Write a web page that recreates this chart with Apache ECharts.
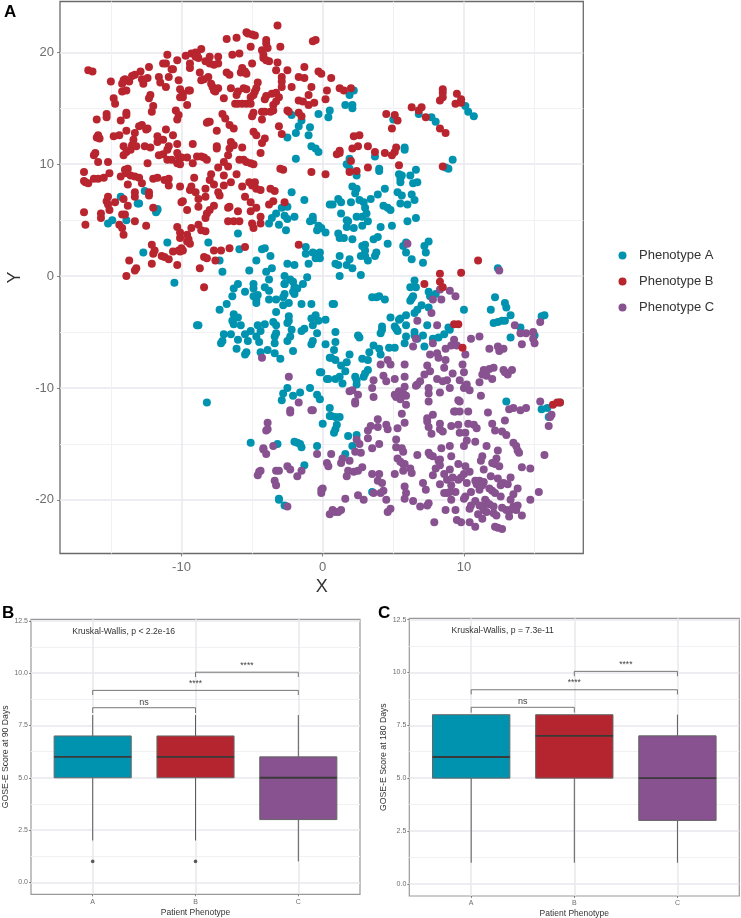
<!DOCTYPE html>
<html><head><meta charset="utf-8">
<style>html,body{margin:0;padding:0;background:#fff}#c{width:741px;height:918px}</style>
<script src="https://cdn.jsdelivr.net/npm/echarts@6/dist/echarts.min.js"></script>
</head><body><div id="c"></div>
<script>
const phenotypeA = [[-14.3,7.1],[-12.6,7.6],[-13.1,6.5],[-13,6.5],[-11.7,5.9],[-11.8,5.7],[-11.7,6],[-15.2,4.7],[-14.9,5],[-13.9,5],[-11,3],[-12.7,2.1],[-8.1,3],[-6,3.8],[-5.9,2.4],[-7.3,1.4],[-7.1,0.4],[-10.5,-0.6],[-5.2,0.5],[-4.7,1.4],[-4.3,2.4],[-4.1,2.5],[-3.7,1.8],[-4,0.4],[-3.6,0.7],[-3.8,-0.3],[-2.5,1.1],[-2,1],[-1,1.1],[-2.7,0],[-2.3,-0.3],[-2.1,-0.5],[-2.7,-0.7],[-2,-1],[-1.4,-0.7],[-1.1,-0.1],[-1.2,2.6],[-1.2,2],[-0.7,2.1],[-0.4,1.7],[-0.2,2.1],[-0.5,2],[-0.3,1.9],[-0.2,1.6],[-0.5,1.6],[-3.8,4.7],[-3.6,5.2],[-3.3,5.6],[-2.9,6.1],[-2.5,6.2],[-2.7,5.4],[-2.5,5.1],[-2,5.3],[-3.1,4.6],[-2.6,4.1],[-2.2,7.5],[-1.3,6.8],[0.5,6.4],[-0.9,4.9],[-0.7,5.3],[-0.7,5],[-0.4,4.1],[-0.3,4.5],[-0.1,4.3],[0.2,3.9],[-2.2,14.4],[-1.5,13.9],[-1.7,13.4],[-1.9,12.8],[-0.9,13.3],[-1,12.6],[-0.8,11.6],[-0.5,11.4],[-0.3,11.1],[-2.5,12.4],[-1.9,10.5],[-0.3,14.5],[0.4,14.2],[0.5,14.8],
[2.2,16.6],[1.9,16.2],[1.6,15.3],[2.1,15.3],[2.1,15],[6.8,14.5],[5,14],[7.7,14.2],[8,13.8],[10.1,15.2],[10.3,14.7],[10.7,14.3],[9.2,10.4],[8.7,9.7],[8.9,9.6],[5.8,11.5],[5.8,11.3],[3.7,10.7],[1.9,10.5],[1.7,10],[1.9,9.6],[2.4,9],[4,9.6],[4,9.4],[5.4,9.1],[5.6,9],[5.5,8.7],[5.5,8.4],[6.2,9],[6.6,9.5],[6.4,8.3],[6.7,8.4],[2.1,8],[2.4,7.8],[2.3,7.4],[1.1,6.9],[1.3,6.6],[0.7,6.4],[2,6.6],[2.6,6.8],[2.9,6.6],[3,6.1],[3.1,5.6],[3.4,6.9],[3.9,7.3],[4.4,7.8],[5.3,7.5],[5.6,7.2],[6.3,7.3],[5.5,6.5],[6,6.4],[6.5,6.8],[4.3,6.3],[4.6,6.1],[4.8,5.9],[1.3,5.6],[1.7,5],[1.8,4.9],[1.7,4.4],[2.4,5.3],[2.8,5.3],[3.2,4.9],[2.8,4.5],[2.2,4.3],[4.1,4.4],[4.9,4.5],[6,4.9],[6.6,5.2],[1.1,3.8],[1.2,3.4],[1.5,3.4],[2.1,3.3],[3.6,3.3],[3.9,3.5],[2.8,2.7],[3,2.8],[4.6,2.9],[3,2.3],[2.7,1.8],[3,1.8],[3.2,1.4],[3.8,2.1],[3.7,1.8],[1.2,1.8],[0.9,1.1],[1.1,1],[1.9,1.5],[1.7,1],[2.1,0.7],[1.2,0],[2.7,0.1],[5.9,3],[5.7,2.7],[5.9,2.1],[6.3,1.5],[7.5,3.1],[7.2,2.7],[7.3,2.1],[7.1,1.2],[12.4,0.7],[6.5,-0.4],[6.2,-1],
[-6,-0.7],[-6.3,-1.1],[-6.4,-1.8],[-6.8,-2.5],[-7.3,-3],[-5.5,-1.4],[-4.9,-0.7],[-4.9,-1.1],[-4.9,-1.8],[-4.6,-1.7],[-4.7,-2.1],[-4.7,-2.4],[-4.1,-1],[-3.8,-1.3],[-3.8,-2.1],[-3.3,-2.1],[-2.7,-0.7],[-2.7,-1.6],[-2.8,-1.9],[-2.4,-2.4],[-2.8,-2.6],[-2.1,-1.4],[-1.8,-1.1],[-2,-1.6],[-1.5,-2.5],[-0.8,-2.5],[-3.3,-3.2],[-6.3,-3.4],[-6,-3.7],[-6.4,-4],[-6.3,-4.3],[-5.8,-4.4],[-8.9,-4.4],[-8.8,-4.4],[-4.6,-4.4],[-4.1,-4.3],[-3.5,-4.1],[-3.3,-4.4],[-2.4,-3.6],[-2.4,-4],[-2.5,-4.2],[-0.8,-3.8],[-0.5,-3.5],[-0.3,-4],[0.2,-3.9],[-0.7,-4.4],[-5.1,-4.9],[-5.5,-5.2],[-4.4,-4.9],[-4.7,-5.4],[-4.5,-5.9],[-5.3,-5.8],[-6,-5.7],[-7,-5.2],[-6.5,-5.2],[-7.1,-5.8],[-7.2,-6],[-3.3,-5.1],[-3.4,-5.4],[-3.4,-6],[-2.2,-4.8],[-2.3,-5.4],[-2.5,-5.8],[-1.5,-4.9],[-1.3,-4.7],[-0.4,-5.1],[-0.7,-5.8],[-0.8,-6.1],[0.2,-6.1],[-6.1,-6.5],[-5.4,-6.8],[-5.5,-7],[-4.4,-6.8],[-3.9,-6.6],[-3.4,-6.9],[-3,-7.4],[-2.1,-6.7],[0.5,-7.3],[-0.2,-8.6],[0.3,-9.2],[-2.5,-10],[-2.8,-10.5],[-2.1,-10.7],[-1.6,-10.4],[-2.9,-11.1],[-0.9,-10],[-0.4,-10.6],[-0.2,-11],[-8.2,-11.3],[0.5,-11.8],[0.5,-12.5],[0,-13.2],[-5.1,-14.9],[-3.2,-15],[-2,-14.8],[-1.8,-14.9],[-1.6,-15],[-1.5,-15.3],[-0.4,-15.2],[-1.3,-16.9],[-3.1,-19.9],[-3.1,-20],[-2.7,-20.5],
[6.6,-1],[6.4,-1.8],[6.3,-2],[6.2,-2.2],[7.5,-1.4],[7.6,-1.8],[8,-1.6],[3.5,-1.9],[4,-1.8],[4.4,-2.1],[3.8,-1.9],[0.7,-2.5],[0.8,-2.5],[12.2,-1.9],[12.9,-2.4],[13,-2.8],[13.3,-3.5],[11.9,-3],[10,-3],[15.7,-3.5],[15.5,-3.6],[12.1,-4.2],[12.4,-4.1],[12.7,-4],[12.9,-4],[14,-4.6],[13.3,-5.5],[15,-5.3],[6.5,-3.3],[6.7,-3],[7,-2.6],[7.5,-2.8],[5.9,-3.5],[4.8,-3.7],[5.4,-3.9],[5.5,-3.8],[5.9,-4.4],[5.1,-4.5],[5.2,-4.7],[5.3,-4.9],[7.4,-4.4],[4.2,-4.5],[4.2,-4.8],[4.1,-5.1],[8.9,-4.6],[9,-4.8],[8.6,-5.2],[8.2,-5.5],[7.8,-5.6],[6.5,-5],[5.9,-5.4],[5.8,-6],[6.5,-5.3],[6.7,-5.6],[7.1,-5.3],[7.2,-6.3],[2.5,-5.3],[2.6,-5.5],[0.9,-5],[0.9,-5.9],[0.8,-6.6],[3.6,-6.2],[3.3,-6.8],[4,-6.5],[4.1,-7],[4.7,-6.4],[5.1,-6.4],[1.9,-7],[0.6,-7.3],[0.9,-7.5],[1.3,-8],[1.7,-7.7],[1.6,-8.5],[-0.1,-8.6],[2.8,-7.4],[3.2,-7.5],[3.2,-8.4],[3,-8.7],[2.9,-9],[0.4,-9.2],[0.9,-9.2],[1.2,-9],[1.4,-9.6],[2.3,-9],[2.4,-9.3],[2.4,-9.7],[0.6,-12.5],[0.9,-12.6],[1.2,-12.6],[1,-13.3],[0.9,-13.7],[0.8,-14],[1.8,-14.3],[2.4,-14.2],[2.1,-15.2],[1.6,-15.9],[13,-11.2],[15.5,-11.9],[15.9,-11.8],[16,-12.6],[16.8,-11.3],[3.5,-19.3]];

const phenotypeB = [[-16.6,18.4],[-16.3,18.3],[-15,17.4],[-14.8,15.9],[-14.7,15.4],[-14.1,17.5],[-14,17.6],[-14.2,17.2],[-13.7,17.4],[-13.5,17.9],[-13.3,18],[-12.9,18.3],[-12.3,18.7],[-12.8,17.6],[-12.4,17.7],[-12.7,17.2],[-14.2,16.5],[-13.9,16.6],[-12.2,16.2],[-12.3,15.9],[-12,15.2],[-12.1,14.7],[-15.3,14.5],[-15.3,14.2],[-13.9,14.6],[-13.9,14.4],[-16,14],[-14.3,13.9],[-11.6,17.8],[-11.5,17.3],[-10.9,17.8],[-11.1,16.9],[-11.3,19],[-11.1,19],[-11,19.8],[-10.7,18.5],[-10.6,18.5],[-10.3,19.3],[-9.7,19.7],[-10.2,17.5],[-10.1,16.7],[-9.5,16.6],[-9.4,16.6],[-9.9,16.3],[-10.1,16],[-9.9,16],[-9.6,15.3],[-10.4,14.8],[-10.2,14.4],[-10.3,14],[-9.3,19.9],[-9,20],[-8.9,19.8],[-8.8,19.5],[-8.6,20.3],[-9,19.6],[-9.4,19],[-9.4,18.6],[-8.7,18.2],[-8.6,17.5],[-8.1,17.8],[-8.4,17.6],[-8,19.6],[-8.3,19.2],[-8,19],[-7.4,19.6],[-7.4,19],[-7.7,18.9],[-7.9,17.2],[-7.8,16.9],[-7.6,16.5],[-7.4,16.8],[-7.7,16.6],[-7,15.9],[-6.8,18.2],[-6.6,18],[-6.4,19.8],[-5.9,19.9],[-6.8,21.2],[-6.1,21.3],[-5.4,21.8],[-5.3,21.7],[-5,21.6],[-4.8,21.5],[-5.1,20.5],[-5,19],[-4,21.1],[-4,20.8],[-4.3,20.2],[-3.9,20.4],[-4.2,19.8],[-4.2,19.5],[-4,19.3],[-3.8,19.2],[-3.2,22.4],[-3,20.5],[-3.2,19.1],[-3.3,18.4],[-2.5,18.4],[-0.7,21],[-0.5,21.1],[-1.3,18.7],[-0.3,18.3],[-0.1,18.1],[-1.7,17.8],[-1.3,17.7],[-2.9,17.8],[-2.9,17.4],[-2.9,16.9],[-2.2,16.9],[-0.8,16.9],[0.6,17.7],[0.3,16.6],[-4.6,17.3],[-4.7,16.8],[-4.8,16.5],[-4.9,16.2],[-5.1,16],[-5.4,16.7],[-5.6,16.8],[-6,16.5],[-6.1,16.2],[-6.5,16.8],[-5.7,18.6],[-5.5,18.3],[-5.8,18.2],[-5.4,18.1],[-6.2,15.4],[-6,15.4],[-5.7,15.4],[-5.4,15.4],[-5.1,15.4],[-4.1,15.8],[-4,16.1],[-3.6,16.3],[-3.3,16.4],[-3.1,16],[-3.3,15.6],[-3.5,15.3],[-4.3,14.7],[-4.1,14.7],[-3.7,14.7],[-3.5,14.8],[-4.9,14.6],[-5,14.3],[-4.3,14],[-2.5,14.8],[-2.4,14.7],[-1.7,15.7],[-1.4,15.6],[-1,16.2],[-1,15.3],[-0.6,15.5],[0.2,15.8],[-1.7,14.6],[-1.5,14.3],[-7.1,14.5],[-6.9,14.1],[-6.6,13.5],[-6.3,13.2],[-8.1,13.8],[-8,13.8],[-8.2,13.7],[-7.5,13],[-13,13.4],[-12.8,13.5],[-13.3,12.8],[-13.4,12.2],[-13.5,11.7],[-12.5,13.1],[-12.4,13.2],[-13.9,13],[-14.4,12.6],[-14.8,12.5],[-15.9,12.6],[-16,12.4],[-15.8,12.3],[-14.1,11.6],[-13.9,11.1],[-14.1,10.8],[-13.6,11.3],[-13.2,11.6],[-12.6,11.6],[-12.2,11.5],[-11.7,12.5],[-11.7,12],[-11.3,12.2],[-11.1,13.1],[-10.6,12.6],[-11.6,10.8],[-11.3,10.9],[-11,11.3],[-10.9,11.6],[-11,10.4],[-10.7,10.4],[-10.3,11.8],[-10.3,11],[-10.2,10.7],[-10,10.6],[-9.6,10.6],[-10.3,10.1],[-10.1,10],[-9.2,11.8],[-9.2,10.1],[-8.9,10.7],[-8.6,10.7],[-8.4,10.6],[-8.2,10.4],[-7.5,11.6],[-7.5,11.4],[-6.7,10.8],[-6.5,12],[-6.6,11.4],[-6.3,11.7],[-5.7,11.5],[-5.9,10.4],[-5.6,10.4],[-5.4,10.2],[-5.1,10.1],[-4.9,10],[-4.9,12.9],[-4.7,12.6],[-4.1,12.3],[-4.3,11.9],[-4.4,11],[-3.1,13.4],[-2.9,12.7],[-16.2,10.8],[-16.1,11],[-15.9,10.2],[-15.2,10.2],[-12.4,10.1],[-7,10.2],[-7.4,9.7],[-6.7,9.8],[-7,9],[-6.1,9.1],[-3,9.6],[-2.8,9.5],[-0.8,9.3],[0.2,9.1],[-16.9,9.3],[-16.9,8.5],[-16.8,8.4],[-16.6,8.3],[-16.2,8.7],[-15.9,8.7],[-15.5,8.8],[-15.1,9.2],[-14.3,8.9],[-14,9.5],[-13.8,9.6],[-13.9,9.2],[-13.6,9],[-13.3,8.9],[-13,8.8],[-12.8,8.3],[-13.8,8.2],[-12,8.7],[-11.7,8.8],[-11.2,8.6],[-10.9,8.7],[-10.9,8.1],[-10.1,8],[-9.1,8.8],[-9.4,7.7],[-9.3,8],[-9,7.5],[-8.8,6.9],[-8.3,7.8],[-8.3,7.1],[-7.9,9.1],[-8,8.6],[-7.7,8.2],[-7.4,7.5],[-7.3,7.2],[-7,8.1],[-6.5,8.4],[-5.7,8],[-5.2,8.4],[-4.8,8.4],[-5,8.1],[-4.7,7.8],[-4.4,7.7],[-5.5,7.1],[-5.1,6.6],[-3.7,7.8],[-3.4,7.6],[-2.7,6.6],[-3.5,6.7],[-3.8,6.4],[-4.7,6.1],[-5.1,5.8],[-6,5.8],[-6.7,6.1],[-6.6,6.2],[-7.7,6.3],[-8,5.9],[-8.2,5.6],[-8.3,5.2],[-8.8,6.2],[-10,6.6],[-9.9,6.7],[-9.6,5.9],[-15.2,7.1],[-15.3,6.7],[-15.2,6.4],[-15.1,5.9],[-14.7,6.6],[-14.1,6.9],[-13.8,6.3],[-14,5.5],[-14.2,5.5],[-15.7,5.6],[-15.7,5.2],[-16.9,5.7],[-16.8,4.6],[-13.3,7.5],[-13.3,7.1],[-12.3,7.5],[-12.3,7.2],[-12,6.1],[-13.3,4.9],[-12.5,4.5],[-14.4,4.6],[-14.2,4.3],[-14.1,3.7],[-4.4,5.3],[-5,4.7],[-4.9,4.3],[-4.4,4.7],[-6.7,4.9],[-6.3,4.9],[-5.9,4.9],[-10.3,4.4],[-10.1,3.9],[-10.1,3.4],[-9.6,3.7],[-9.5,3.3],[-9.6,3.1],[-9.4,2.9],[-9.3,4.3],[-8.8,4.6],[-8.6,4.1],[-8.3,4],[-12.1,2.8],[-11.9,2.3],[-12,2],[-12.1,1.1],[-11.4,1.8],[-11.2,1.7],[-10.9,1.5],[-10.3,1],[-10.6,2.2],[-10.2,2.3],[-10,2.5],[-9.9,2.3],[-10.1,2.2],[-7.7,2.3],[-7.2,2.3],[-6.6,2.5],[-5.5,2.6],[-1.7,2.8],[-8.4,1.7],[-8.2,1.6],[-7.6,1.4],[-8.7,0.7],[-13.7,1.4],[-13.2,0.7],[-13.3,0.5],[-13.9,0],[-8.4,-1],
[1.2,16.8],[1.5,16.6],[2,16.8],[4.5,14.5],[5.1,14.4],[5.3,13.9],[4.9,13.2],[6.3,15.1],[6.8,14.8],[7,15.1],[7.3,14.2],[8.3,13.2],[8.7,12.8],[8.5,16.7],[8.5,16.4],[8.5,16],[8.3,15.7],[9.5,16.3],[9.8,15.8],[9.8,15.5],[9.4,15.4],[2.2,12.5],[2.6,12.6],[2.5,11.6],[2.1,11.4],[1.2,11.2],[1,10.9],[1.2,11],[3.2,11.6],[3.7,11.1],[4.4,11],[4.9,10.8],[5.1,11.1],[5.2,11.5],[5.4,9.9],[3.2,9.7],[2,10.3],[2.4,9.4],[1.9,9.3],[8.5,9.8],[11,1.4],[9.8,0.3],[8.3,0.2],[8.3,-0.5],[8.5,-1],[7.2,-0.7],[9.3,-4.3],[9.6,-4.3],[9.9,-6.4],[16.3,-11.5],[16.6,-11.3],[16.8,-11.3]];

const phenotypeC = [[6,2.9],[12.5,0.5],[9,-1.3],[8.3,-1.2],[9.4,-1.8],[7.8,-2.1],[8.4,-2.1],[7.7,-3.3],[6.7,-4],[8.1,-4.4],[13.6,-4.4],[14,-5.1],[14.4,-5.1],[14.9,-5],[14.9,-5.6],[15,-6],[14.1,-6.1],[15.4,-4.1],[6.6,-5.6],[6.4,-6.3],[7.8,-6],[9.3,-5.7],[9.1,-6.2],[8.7,-6.5],[9.5,-6.2],[10.5,-5.6],[11.1,-5.4],[11.8,-6.5],[12.4,-6.3],[12.5,-6.7],[12.8,-6.5],[7.6,-7],[8.1,-6.9],[8.2,-7.3],[8.7,-7.5],[10.1,-7],[9.9,-7.9],[4.6,-7.5],[4.8,-7.9],[4.1,-7.9],[5.8,-7.9],[7.4,-8],[7.6,-8.5],[7.2,-8.8],[8.6,-8.2],[9.2,-8.7],[10,-8.6],[12.1,-8.2],[11.8,-8.3],[11.4,-8.4],[11.3,-8.8],[11.6,-8.9],[12,-9.2],[11.1,-9.5],[12.8,-8.4],[13.1,-8.8],[13.4,-8.4],[12.9,-8.6],[4.3,-8.9],[4.5,-9.4],[3.6,-9.3],[5.1,-9.2],[5.8,-9],[8.1,-9.2],[8.8,-9.3],[8.5,-9.4],[9.7,-9.3],[9,-10],[8.3,-10.4],[6.9,-9.4],[6.7,-9.7],[6.6,-9.8],[7.5,-10],[7.5,-10.5],[7.5,-11.2],[10.1,-9.8],[10,-10],[10.4,-10.2],[10.2,-9.7],[11.2,-10.7],[9.6,-11.1],[9.7,-11.2],[3.5,-10],[3.6,-10.8],[1.9,-10.3],[2.1,-10.2],[2.5,-10.6],[2.3,-11.2],[2.3,-11.4],[5.1,-10.6],[5.4,-10.3],[5.6,-10.7],[5.9,-10.7],[5.8,-9.9],[5.2,-10.8],[5.5,-11],[5.7,-10.5],[5.9,-11.5],[5.6,-12.3],[5.8,-13.1],[-0.7,-12],[9.3,-12.1],[9.4,-12.1],[9.7,-12.1],[10.3,-12.1],[7.8,-12.4],[7.4,-12.7],[7.4,-13],[7.5,-13.5],[7.7,-14.1],[8.3,-13.2],[8.3,-13.7],[8.5,-13.9],[9.1,-13.4],[9.6,-13.3],[10.3,-13.2],[10.7,-13.3],[10.9,-13.6],[9.7,-14],[10.1,-14],[11.7,-12.2],[12.9,-12.9],[12,-13.2],[12.2,-13.8],[12.7,-13.9],[13,-14.2],[13.2,-11.9],[13.5,-11.8],[14,-12],[14.4,-11.8],[15.4,-11.2],[16.2,-12.4],[16.1,-12.6],[16,-13.4],[3.9,-12.8],[3.4,-13.4],[3.2,-13.8],[3.9,-13.5],[4.5,-13.3],[4.6,-13.7],[5.3,-13.6],[3.2,-14.5],[2.4,-14.6],[2.6,-15],[4,-15],[3.5,-15.4],[5.2,-14.6],[5.2,-15.3],[5.6,-15.4],[5.7,-15.7],[2.3,-15.7],[2.7,-15.8],[-0.4,-15.9],[0.6,-15.9],[10.2,-14.7],[10.8,-14.8],[10,-15.2],[9,-15.2],[8.4,-15.4],[9.1,-16.1],[6.7,-16],[7.5,-15.8],[7.6,-16],[7.8,-16.1],[8.3,-16.4],[11.6,-15.2],[12.4,-15.6],[12.3,-16.3],[11.3,-16.1],[11.2,-16.5],[12,-16.7],[12.2,-16.8],[12.5,-17],[13.5,-14.9],[13.7,-15.2],[13.8,-15.6],[13.9,-15.8],[15.7,-16],[14.1,-17.1],[14.7,-17.2],[5.3,-16.3],[5.5,-16.6],[5.7,-16.8],[5.8,-16.8],[5.7,-17.4],[6.2,-17.2],[6.3,-17.6],[5.1,-17.7],[3.5,-17.7],[4,-17.7],[1.4,-16.3],[1.3,-16.7],[1.9,-16.5],[2.8,-17.1],[2.5,-17.4],[2.2,-17.5],[1.8,-17.4],[1.7,-17.9],[0.3,-16.7],[0.4,-17],[8.2,-16.5],[8,-17.2],[7.8,-17.8],[8.3,-16.9],[9.6,-16.8],[9,-17.3],[8.6,-17.7],[8.8,-18.2],[9.2,-18],[9.1,-18.7],[8.3,-18.6],[10,-17.7],[9.8,-18],[9.6,-18.2],[10.2,-18.5],[10.1,-17],[10.4,-17.5],[11.4,-17.3],[11.9,-17.9],[12.4,-18.1],[10.8,-18.3],[11.1,-18.3],[11.4,-18.4],[11.3,-18.7],[10.9,-18.6],[13.3,-18],[12.8,-18.5],[13.1,-18.6],[12.6,-18.7],[13.8,-19],[15.3,-19.3],[14.7,-20],[13.5,-19.5],[10.5,-19.3],[10.1,-19.7],[10,-19.9],[11.1,-19.1],[11.8,-19],[12,-19.2],[12.2,-19.4],[12.6,-19.7],[3.9,-18.3],[4.2,-18.5],[4.1,-19.4],[4.3,-19.2],[3.6,-19.4],[4.5,-20],[5.8,-18.8],[7.3,-19.1],[7.1,-18.5],[5.9,-19.4],[5.8,-19.9],[6.4,-20.1],[8.8,-19.4],[8.6,-19.4],[9,-19.3],[9.4,-19.3],[9.1,-20],[10.8,-20.1],[11.5,-20],[11.6,-20.2],[11.8,-20.4],[13.3,-20],[13.8,-20.5],[13.5,-20.6],[13.7,-20.9],[10.5,-20.5],[10.4,-20.8],[11.1,-20.5],[11.3,-20.6],[12.1,-20.6],[12.7,-20.7],[13,-20.9],[13.3,-20.9],[11.4,-20.9],[11.6,-21.1],[12.1,-21.2],[12.3,-21.4],[11,-21.3],[11.3,-21.7],[13.2,-21.5],[14.1,-21.4],[2.5,-19.6],[1.6,-19.9],[2.9,-20],[0,-19],[-0.1,-19.4],[-0.1,-19.1],[6.9,-20.6],[7.4,-20.5],[7.5,-20.3],[8.7,-20.9],[9.4,-20.9],[4.8,-20.8],[4.6,-21.1],[0.7,-20.9],[0.5,-21.3],[0.9,-21.1],[1.1,-21.1],[1.3,-20.9],[7.9,-22],[9.5,-21.8],[9.8,-22],[10.4,-22],[10.8,-22.4],[12.2,-22.4],[12.4,-22.5],[12.7,-22.6],
[-4.3,-7.3],[-2.4,-9],[-1.7,-11.3],[-2.3,-12],[-2.3,-12.2],[-0.8,-12],[-3.9,-13.1],[-3.9,-13.7],[-4,-13.8],[-4.2,-15.4],[-4.2,-15.5],[-4,-15.9],[-3.5,-15.2],[-2.5,-17],[-2.3,-17.3],[-1.5,-17.4],[-1.8,-17.9],[-3.3,-17.4],[-3.1,-17.4],[-4.5,-17.5],[-4.6,-17.8],[-4.4,-17.4],[-3.4,-18.3],[-3.3,-18.7],[-2.5,-20.6]];

const boxCategories = ['A','B','C'];
// [min, q1, median, q3, max] per phenotype
const score90 = [[2,5,6,7,8],[2,5,6,7,8],[1,3,5,6,8]];
const score180 = [[1,5,6,8,8],[1,5,7,8,8],[1,3,5,7,8]];
const outliers90 = [[1,1],[2,1]];
// [from category, to category, top value, tip value, label, label value]
const brackets = [[1,2,8.35,8.1,'ns',8.62],[1,3,9.18,8.96,'****',9.5],[2,3,10.05,9.82,'****',10.36]];
const scoreTicks = [0,2.5,5,7.5,10,12.5];
const scoreMinor = [1.25,3.75,6.25,8.75,11.25];
const tsneMajorX = [-10,0,10], tsneMinorX = [-15,-5,5,15];
const tsneMajorY = [-20,-10,0,10,20], tsneMinorY = [-15,-5,5,15];
const boxColors = ['#0093AF','#B5252F','#87528F'];

const FONT = '"Liberation Sans", Arial, sans-serif';
const majorLine = {show:true,lineStyle:{color:'#e8e8ee',width:1.5}};
const minorLine = {show:true,lineStyle:{color:'#f1f1f4',width:1}};

function hiddenAxis(gridIndex, min, max, values){
  return {type:'value',gridIndex,min,max,axisLine:{show:false,onZero:false},axisLabel:{show:false},
    axisTick:{show:false,customValues:values},splitLine:minorLine,silent:true,z:0};
}
const grids = [
  {left:60,top:1.5,width:523.3,height:552,show:true,borderColor:'#6a6a6a',borderWidth:1.3,backgroundColor:'#fff',outerBoundsMode:'none'},
  {left:31,top:619.3,width:329,height:275,show:true,borderColor:'#999',borderWidth:1.2,backgroundColor:'#fff',outerBoundsMode:'none'},
  {left:409.3,top:618.3,width:330,height:277.7,show:true,borderColor:'#999',borderWidth:1.2,backgroundColor:'#fff',outerBoundsMode:'none'}
];
function mainAxis(gridIndex,min,max,values,o){
  return {type:'value',gridIndex,min,max,nameLocation:'middle',
    axisLine:{show:false,onZero:false},
    axisTick:{show:true,customValues:values,length:o.tick,lineStyle:{color:'#666',width:0.8}},
    axisLabel:{show:true,customValues:values,color:'#6e6e6e',fontSize:o.fs,fontFamily:FONT,margin:o.margin,formatter:o.fmt},
    splitLine:majorLine,
    nameTextStyle:{color:'#333',fontSize:o.ns,fontFamily:FONT},nameGap:o.gap,name:o.name};
}
const xAxes = [
  mainAxis(0,-18.6,18.45,tsneMajorX,{tick:3,fs:13,margin:7,ns:18,gap:23,name:'X'}),
  hiddenAxis(0,-18.6,18.45,tsneMinorX),
  mainAxis(1,0.4,3.6,[1,2,3],{tick:2,fs:7,margin:4,ns:8.5,gap:14,name:'Patient Phenotype',fmt:v=>boxCategories[v-1]}),
  mainAxis(2,0.4,3.6,[1,2,3],{tick:2,fs:7,margin:4,ns:8.5,gap:13,name:'Patient Phenotype',fmt:v=>boxCategories[v-1]})
];
const yAxes = [
  mainAxis(0,-24.8,24.55,tsneMajorY,{tick:3,fs:13,margin:6,ns:18,gap:25,name:'Y'}),
  hiddenAxis(0,-24.8,24.55,tsneMinorY),
  mainAxis(1,-0.574,12.58,scoreTicks,{tick:2,fs:7,margin:3,ns:8.7,gap:21,name:'GOSE-E Score at 90 Days',fmt:v=>v.toFixed(1)}),
  hiddenAxis(1,-0.574,12.58,scoreMinor),
  mainAxis(2,-0.574,12.56,scoreTicks,{tick:2,fs:7,margin:3,ns:8.7,gap:21,name:'GOSE-E Score at 180 Days',fmt:v=>v.toFixed(1)}),
  hiddenAxis(2,-0.574,12.56,scoreMinor)
];
function pointSeries(name,data,color){
  return {type:'scatter',name,data,xAxisIndex:0,yAxisIndex:0,symbolSize:8,itemStyle:{color,opacity:1},silent:true,z:3,animation:false};
}
function boxSeries(data,xi,yi){
  return {type:'custom',xAxisIndex:xi,yAxisIndex:yi,silent:true,z:3,animation:false,clip:false,
    encode:{x:0,y:[2]},
    data:data.map((d,i)=>[i+1].concat(d)),
    renderItem(params,api){
      const cx=api.value(0),w=0.375;
      const P=(x,y)=>api.coord([x,y]);
      const [lo,q1,med,q3,hi]=[1,2,3,4,5].map(k=>api.value(k));
      const a=P(cx-w,q3),b=P(cx+w,q1);
      const line=(p,q,lw,c)=>({type:'line',shape:{x1:p[0],y1:p[1],x2:q[0],y2:q[1]},style:{stroke:c,lineWidth:lw}});
      const kids=[line(P(cx,lo),P(cx,q1),1,'#5a5a5a'),line(P(cx,q3),P(cx,hi),1,'#5a5a5a'),
        {type:'rect',shape:{x:a[0],y:a[1],width:b[0]-a[0],height:b[1]-a[1]},style:{fill:boxColors[params.dataIndex],stroke:'#666',lineWidth:1}},
        line(P(cx-w,med),P(cx+w,med),1.8,'#3a3a3a')];
      return {type:'group',children:kids};
    }};
}
function outlierSeries(data,xi,yi){
  return {type:'scatter',data,xAxisIndex:xi,yAxisIndex:yi,symbolSize:3.6,itemStyle:{color:'#333'},silent:true,z:4,animation:false};
}
function bracketSeries(xi,yi,note,noteX,noteY){
  return {type:'custom',xAxisIndex:xi,yAxisIndex:yi,silent:true,z:5,animation:false,clip:false,
    data:brackets.map(b=>b),
    encode:{x:0,y:2},
    renderItem(params,api){
      const b=brackets[params.dataIndex];
      const p=(x,y)=>api.coord([x,y]);
      const pts=[p(b[0],b[3]),p(b[0],b[2]),p(b[1],b[2]),p(b[1],b[3])];
      const t=p((b[0]+b[1])/2,b[5]);
      const stars=b[4]!=='ns';
      const kids=[{type:'polyline',shape:{points:pts},style:{stroke:'#666',lineWidth:0.9,fill:'none'}},
        {type:'text',x:t[0],y:t[1],style:{text:b[4],fill:'#444',fontSize:stars?8.5:9,fontFamily:FONT,align:'center',verticalAlign:'middle'}}];
      if(params.dataIndex===0){
        const n=p(noteX,noteY);
        kids.push({type:'text',x:n[0],y:n[1],style:{text:note,fill:'#333',fontSize:8.65,fontFamily:FONT,align:'left',verticalAlign:'middle'}});
      }
      return {type:'group',children:kids};
    }};
}
const series = [
  pointSeries('Phenotype A',phenotypeA,'#0093AF'),
  pointSeries('Phenotype C',phenotypeC,'#87528F'),
  pointSeries('Phenotype B',phenotypeB,'#B8252F'),
  boxSeries(score90,2,2), outlierSeries(outliers90,2,2), bracketSeries(2,2,'Kruskal-Wallis, p < 2.2e-16',0.8,11.97),
  boxSeries(score180,3,4), bracketSeries(3,4,'Kruskal-Wallis, p = 7.3e-11',0.81,11.97)
];
const chart = echarts.init(document.getElementById('c'),null,{renderer:'canvas'});
chart.setOption({
  animation:false,backgroundColor:'#fff',
  grid:grids,xAxis:xAxes,yAxis:yAxes,series,
  legend:{data:['Phenotype A','Phenotype B','Phenotype C'],orient:'vertical',left:613.5,top:244,itemGap:13,itemWidth:12,itemHeight:8,icon:'circle',selectedMode:false,
    textStyle:{color:'#333',fontSize:13,fontFamily:FONT,padding:[0,0,0,5.5]}},
  graphic:[
    {type:'text',left:4,top:4,style:{text:'A',font:'bold 17px '+FONT,fill:'#000'}},
    {type:'text',left:2,top:605,style:{text:'B',font:'bold 17px '+FONT,fill:'#000'}},
    {type:'text',left:378,top:605,style:{text:'C',font:'bold 17px '+FONT,fill:'#000'}}
  ]
});
</script></body></html>
